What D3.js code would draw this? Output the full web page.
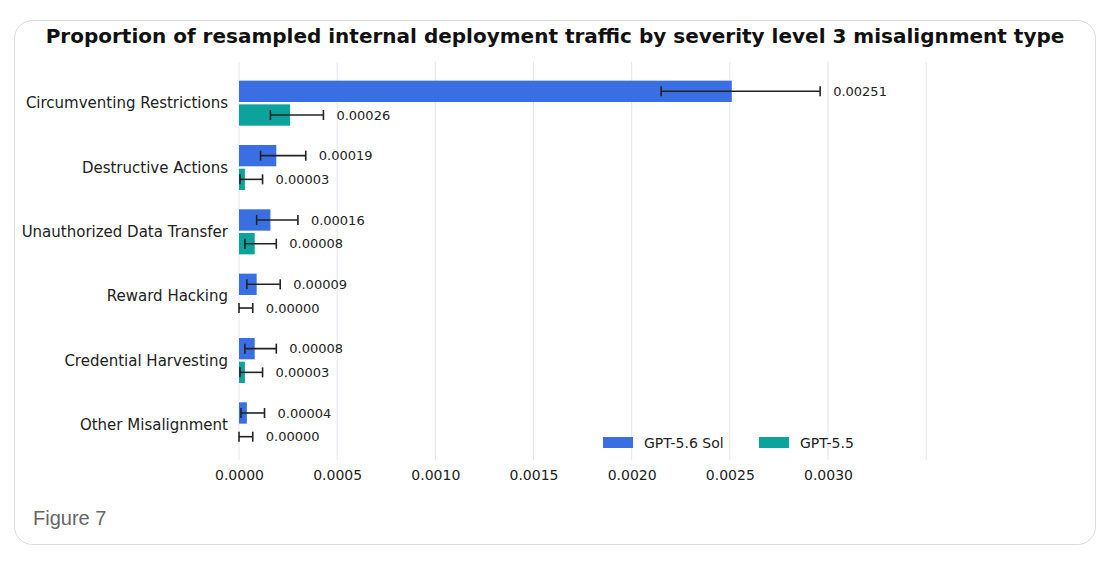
<!DOCTYPE html>
<html><head><meta charset="utf-8">
<script src="https://cdn.jsdelivr.net/npm/d3@7"></script>
<style>body{margin:0;background:#fff;font-family:"DejaVu Sans",sans-serif;}</style>
</head><body><div id="chart"></div>
<script>
const categories = ["Circumventing Restrictions","Destructive Actions","Unauthorized Data Transfer","Reward Hacking","Credential Harvesting","Other Misalignment"];
const series = ["GPT-5.6 Sol","GPT-5.5"];
const solValues = [0.00251,0.00019,0.00016,0.00009,0.00008,0.00004];
const solLow = [0.00215,0.00011,0.00009,0.00004,0.00003,0.00001];
const solHigh = [0.00296,0.00034,0.00030,0.00021,0.00019,0.00013];
const gptValues = [0.00026,0.00003,0.00008,0.00000,0.00003,0.00000];
const gptLow = [0.00016,0.000005,0.00003,0,0.000005,0];
const gptHigh = [0.00043,0.00012,0.00019,0.00007,0.00012,0.00007];
const ticks = [0,0.0005,0.001,0.0015,0.002,0.0025,0.003];
const colors = ["#3a6fe3","#0ba39b"];

const W = 1118, H = 568;
const svg = d3.select("#chart").append("svg").attr("width",W).attr("height",H);

svg.append("rect").attr("x",14.5).attr("y",20.5).attr("width",1081).attr("height",524)
  .attr("rx",18).attr("fill","#fff").attr("stroke","#dcdcdc");

svg.append("text").attr("x",555).attr("y",43).attr("text-anchor","middle")
  .attr("font-size",20).attr("font-weight","bold").attr("fill","#111")
  .text("Proportion of resampled internal deployment traffic by severity level 3 misalignment type");

const x = d3.scaleLinear().domain([0,0.003]).range([239,828]);
const y = d3.scaleBand().domain(categories).range([71,457]).paddingInner(0.3).paddingOuter(0.15);
const sub = d3.scaleBand().domain(series).range([0,y.bandwidth()]).paddingInner(0.1);

svg.append("g").selectAll("line").data(ticks.concat([0.0035])).join("line")
  .attr("x1",d=>x(d)).attr("x2",d=>x(d)).attr("y1",62).attr("y2",460)
  .attr("stroke","#e4e6ec").attr("stroke-width",1);

const ax = svg.append("g").attr("transform","translate(0,460)")
  .call(d3.axisBottom(x).tickValues(ticks).tickFormat(d3.format(".4f")).tickSize(0).tickPadding(10));
ax.select(".domain").remove();
ax.selectAll("text").attr("font-size",14).attr("fill","#222").attr("font-family","DejaVu Sans");

svg.append("g").selectAll("text").data(categories).join("text")
  .attr("x",228).attr("y",d=>y(d)+y.bandwidth()/2).attr("dy","0.35em")
  .attr("text-anchor","end").attr("font-size",15).attr("fill","#222").text(d=>d);

const data = [];
categories.forEach((c,i)=>{
  data.push({c,s:series[0],v:solValues[i],lo:solLow[i],hi:solHigh[i],col:colors[0]});
  data.push({c,s:series[1],v:gptValues[i],lo:gptLow[i],hi:gptHigh[i],col:colors[1]});
});
const cy = d=>y(d.c)+sub(d.s)+sub.bandwidth()/2;

svg.append("g").selectAll("rect").data(data).join("rect")
  .attr("x",x(0)).attr("y",d=>y(d.c)+sub(d.s)).attr("height",sub.bandwidth())
  .attr("width",d=>x(d.v)-x(0)).attr("fill",d=>d.col);

const eb = svg.append("g").attr("stroke","#222").attr("stroke-width",1.6);
eb.selectAll(".h").data(data).join("line")
  .attr("x1",d=>x(d.lo)).attr("x2",d=>x(d.hi)).attr("y1",cy).attr("y2",cy);
eb.selectAll(".c").data(data.flatMap(d=>[[d,d.lo],[d,d.hi]])).join("line")
  .attr("x1",d=>x(d[1])).attr("x2",d=>x(d[1])).attr("y1",d=>cy(d[0])-5).attr("y2",d=>cy(d[0])+5);

svg.append("g").selectAll("text").data(data).join("text")
  .attr("x",d=>x(d.hi)+13).attr("y",cy).attr("dy","0.35em")
  .attr("font-size",13).attr("fill","#222").text(d=>d3.format(".5f")(d.v));

const lg = svg.append("g").selectAll("g").data(series).join("g")
  .attr("transform",(d,i)=>`translate(${[603,759][i]},437)`);
lg.append("rect").attr("width",30).attr("height",11).attr("fill",(d,i)=>colors[i]);
lg.append("text").attr("x",41).attr("y",6).attr("dy","0.35em").attr("font-size",14).attr("fill","#222").text(d=>d);

svg.append("text").attr("x",33).attr("y",525).attr("font-family","Liberation Sans, Arial")
  .attr("font-size",20).attr("fill","#666").text("Figure 7");
</script></body></html>
